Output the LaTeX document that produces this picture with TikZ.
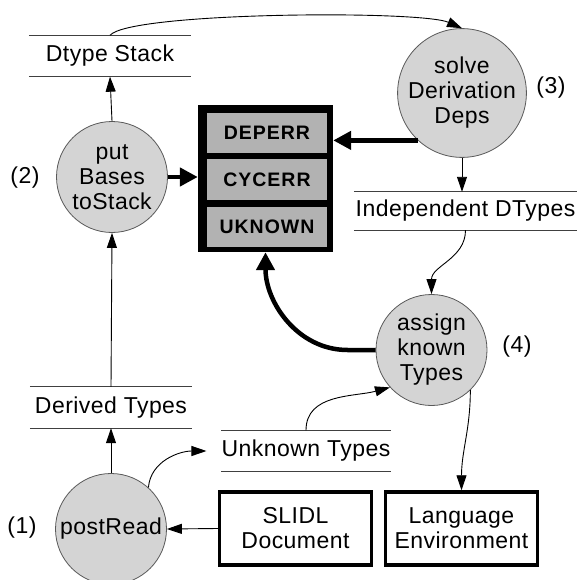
\documentclass[tikz,border=0pt]{standalone}
\usepackage{fontspec}
\setmainfont{Liberation Sans}[LetterSpace=2]
\usetikzlibrary{arrows.meta}
\definecolor{circfill}{gray}{0.83}
\definecolor{cellfill}{gray}{0.70}
\definecolor{circline}{gray}{0.35}
\definecolor{storeline}{gray}{0.25}
\begin{document}
\begin{tikzpicture}[x=1pt,y=-1pt,
  every node/.style={font=\fontsize{23}{25}\selectfont, inner sep=0pt},
  proc/.style={circle, fill=circfill, draw=circline, line width=0.8pt, minimum size=111pt, align=center},
  store/.style={minimum width=162pt, minimum height=41pt},
  storelines/.style={draw=storeline, line width=0.9pt},
  ext/.style={draw, line width=3.5pt, minimum width=152pt, minimum height=73pt, align=center},
  errbox/.style={fill=black, minimum width=135pt, minimum height=147pt},
  cell/.style={fill=cellfill, minimum width=120pt, minimum height=40pt,
    font=\fontsize{19.5}{20}\selectfont\bfseries\addfontfeatures{LetterSpace=5}},
  arr/.style={line width=0.9pt, -{Triangle[length=15pt,width=10pt]}},
  thickarr/.style={line width=4.5pt, -{Triangle[length=18pt,width=18pt]}},
  numlab/.style={}
]
\useasboundingbox (0,0) rectangle (577,580);

% stores
\node[store] (dstack) at (110,56) {Dtype Stack};
\node[store] (derived) at (111,407.5) {Derived Types};
\node[store, minimum width=223pt, minimum height=38pt] (indep) at (465.5,211) {Independent DTypes};
\node[store] (unknown) at (306,451) {Unknown Types};
\foreach \n in {dstack,derived,indep,unknown}
  \draw[storelines] (\n.north west) -- (\n.north east) (\n.south west) -- (\n.south east);

% processes
\node[proc] (put) at (112,177) {put\\Bases\\toStack};
\node[proc] (solve) at (462,93) {solve\\Derivation\\Deps};
\node[proc] (assign) at (431.5,350) {assign\\known\\Types};
\node[proc] (post) at (111,529) {postRead};

\node[numlab] (n1) at (22,528) {(1)};
\node[numlab] (n2) at (25,178) {(2)};
\node[numlab] (n3) at (551,88) {(3)};
\node[numlab] (n4) at (517,347) {(4)};

% error box
\node[errbox] (err) at (265.5,178.5) {};
\node[cell] (dep) at (267,133) {DEPERR};
\node[cell] (cyc) at (267,179.5) {CYCERR};
\node[cell] (unk) at (267,226.5) {UKNOWN};

% externals
\node[ext] (slidl) at (295.5,528.5) {SLIDL\\Document};
\node[ext] (lang) at (461.5,528.5) {Language\\Environment};

% connectors
\draw[arr] (dstack.north) .. controls (130,12) and (420,10) .. (solve.north);
\draw[arr] (put.north) -- (dstack.south);
\draw[thickarr] (put.east) -- (err.west |- put.east);
\draw[thickarr] (solve.227) -- (solve.227 -| err.east);
\draw[arr] (solve.south) -- (solve.south |- indep.north);
\draw[arr] (indep.south) to[out=-90,in=90] (assign.north);
\draw[thickarr] (assign.west) -- ++(-28,0) to[out=180,in=-90] (err.south);
\draw[arr] (unknown.north) to[out=90,in=195] (assign.222);
\draw[arr] (post.48) to[out=85,in=180] ([xshift=-15pt]unknown.west);
\draw[arr] (derived.north) -- (put.south);
\draw[arr] (post.north) -- (derived.south);
\draw[arr] (slidl.west) -- (post.east);
\draw[arr] (assign.-46) to[out=-90,in=90] (lang.north);
\end{tikzpicture}
\end{document}
